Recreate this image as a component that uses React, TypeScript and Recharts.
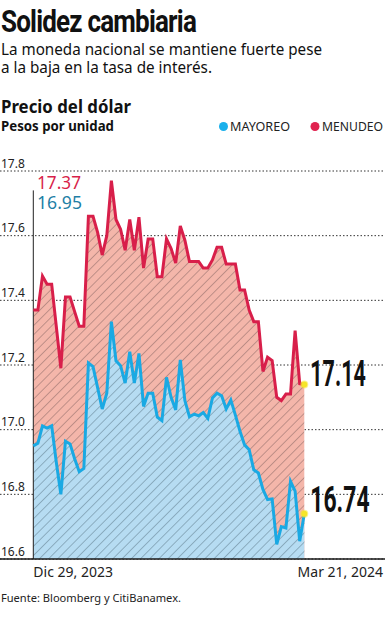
import React from 'react';
import {
  ComposedChart,
  Area,
  Line,
  XAxis,
  YAxis,
  CartesianGrid,
  ReferenceLine,
  ReferenceDot,
} from 'recharts';

// MENUDEO (retail) daily price, Dic 29 2023 -> Mar 21 2024
const menudeo = [
  17.37, 17.37, 17.475, 17.45, 17.45, 17.32, 17.19, 17.41, 17.41, 17.365,
  17.32, 17.32, 17.66, 17.66, 17.61, 17.54, 17.6, 17.77, 17.65, 17.62,
  17.555, 17.65, 17.555, 17.657, 17.5, 17.59, 17.59, 17.473, 17.473, 17.59,
  17.56, 17.515, 17.63, 17.586, 17.52, 17.52, 17.52, 17.5, 17.5, 17.525,
  17.564, 17.564, 17.512, 17.512, 17.512, 17.432, 17.432, 17.37, 17.334, 17.334,
  17.18, 17.224, 17.214, 17.1, 17.09, 17.11, 17.11, 17.306, 17.142, 17.14,
];

// MAYOREO (wholesale) daily price
const mayoreo = [
  16.95, 16.958, 17.012, 17.005, 17.012, 16.9, 16.8, 16.964, 16.956, 16.91,
  16.87, 16.88, 17.206, 17.195, 17.13, 17.064, 17.113, 17.334, 17.213, 17.198,
  17.144, 17.241, 17.144, 17.236, 17.072, 17.113, 17.113, 17.039, 17.028, 17.162,
  17.1, 17.061, 17.216, 17.09, 17.04, 17.048, 17.043, 17.053, 17.035, 17.098,
  17.113, 17.105, 17.064, 17.092, 17.045, 16.995, 16.953, 16.938, 16.876, 16.866,
  16.815, 16.784, 16.786, 16.645, 16.7, 16.696, 16.84, 16.81, 16.655, 16.74,
];

const yTicks = [16.6, 16.8, 17.0, 17.2, 17.4, 17.6, 17.8];
const xTickLabels = ['Dic 29, 2023', 'Mar 21, 2024'];
const seriesNames = ['MAYOREO', 'MENUDEO'];

const lastIdx = menudeo.length - 1;
const xTicks = [0, lastIdx];

const data = menudeo.map((m, i) => ({ i, menudeo: m, mayoreo: mayoreo[i] }));

const RED = '#d81f4a';
const BLUE = '#1aa9e3';
const TEAL = '#1f7fa6';
const TEXT = '#222';
const SANS = '"Noto Sans", "Open Sans", sans-serif';
const COND = 'Roboto, "Noto Sans", sans-serif';

const W = 386;
const H = 620;

const YTick = (props: any) => {
  const { y, payload } = props;
  return (
    <text x={1} y={y - 3.5} fontSize={12} fontFamily={SANS} fill={TEXT} textAnchor="start">
      {Number(payload.value).toFixed(1)}
    </text>
  );
};

const XTick = (props: any) => {
  const { x, y, index } = props;
  const first = index === 0;
  return (
    <text
      x={first ? x : W - 3}
      y={y}
      dy="0.71em"
      fontSize={14}
      fontFamily={SANS}
      fill={TEXT}
      textAnchor={first ? 'start' : 'end'}
    >
      {xTickLabels[index]}
    </text>
  );
};

const endLabel = (value: number, dyBase: number, sx: number) => (props: any) => {
  const { viewBox } = props;
  const cy = viewBox.y + viewBox.height / 2;
  const x = viewBox.x + viewBox.width + 3;
  return (
    <text
      transform={`translate(${x},${cy + dyBase}) scale(${sx},1)`}
      x={0}
      y={0}
      fontSize={37}
      fontWeight={700}
      fontFamily={COND}
      fill="#111"
    >
      {value.toFixed(2)}
    </text>
  );
};

export default function App() {
  return (
    <div style={{ position: 'absolute', left: 0, top: 0, width: W, height: H, background: '#fff' }}>
      <div style={{ position: 'absolute', left: 0, top: 0 }}>
        <ComposedChart
          width={W}
          height={H}
          data={data}
          margin={{ top: 171, right: 1, bottom: 31, left: 0 }}
        >
          <defs>
            <pattern id="hatchRed" width="6.5" height="6.5" patternUnits="userSpaceOnUse" patternTransform="rotate(45)">
              <rect width="6.5" height="6.5" fill="#f4b6aa" />
              <line x1="0" y1="0" x2="0" y2="6.5" stroke="#6e5452" strokeWidth="1" strokeOpacity="0.8" />
            </pattern>
            <pattern id="hatchBlue" width="6.5" height="6.5" patternUnits="userSpaceOnUse" patternTransform="rotate(45)">
              <rect width="6.5" height="6.5" fill="#b6dcf2" />
              <line x1="0" y1="0" x2="0" y2="6.5" stroke="#4a6472" strokeWidth="1" strokeOpacity="0.8" />
            </pattern>
          </defs>
          <CartesianGrid horizontal vertical={false} stroke="#333" strokeDasharray="1.5 2" strokeWidth={1} />
          <XAxis
            dataKey="i"
            type="number"
            domain={[-7.25, 76.57]}
            ticks={xTicks}
            tick={<XTick />}
            tickLine={false}
            axisLine={{ stroke: '#1a1a1a', strokeWidth: 1.5 }}
            height={30}
            allowDataOverflow
          />
          <YAxis
            type="number"
            domain={[16.6, 17.8]}
            ticks={yTicks}
            tick={<YTick />}
            tickLine={false}
            axisLine={false}
            mirror
            width={40}
            interval={0}
            allowDataOverflow
          />
          <Area
            dataKey="menudeo"
            type="linear"
            fill="url(#hatchRed)"
            fillOpacity={1}
            stroke="none"
            baseValue="dataMin"
            isAnimationActive={false}
          />
          <Area
            dataKey="mayoreo"
            type="linear"
            fill="url(#hatchBlue)"
            fillOpacity={1}
            stroke="none"
            baseValue="dataMin"
            isAnimationActive={false}
          />
          <ReferenceLine
            segment={[
              { x: 0, y: 17.74 },
              { x: 0, y: 16.6 },
            ]}
            stroke="#222"
            strokeWidth={1}
          />
          <Line dataKey="mayoreo" type="linear" stroke={BLUE} strokeWidth={3} dot={false} isAnimationActive={false} />
          <Line dataKey="menudeo" type="linear" stroke={RED} strokeWidth={3} dot={false} isAnimationActive={false} />
          <ReferenceDot
            x={lastIdx}
            y={menudeo[lastIdx]}
            r={3}
            fill="#f6e52a"
            stroke="#f6e52a"
            strokeOpacity={0.5}
            strokeWidth={2}
            label={endLabel(menudeo[lastIdx], 2, 0.58)}
          />
          <ReferenceDot
            x={lastIdx}
            y={mayoreo[lastIdx]}
            r={3}
            fill="#f6e52a"
            stroke="#f6e52a"
            strokeOpacity={0.5}
            strokeWidth={2}
            label={endLabel(mayoreo[lastIdx], -2, 0.62)}
          />
        </ComposedChart>
      </div>
      <svg
        width={W}
        height={H}
        style={{ position: 'absolute', left: 0, top: 0, pointerEvents: 'none' }}
      >
        <text x={1} y={32} fontSize={32} fontWeight={700} fontFamily={COND} fill="#111" textLength={195} lengthAdjust="spacingAndGlyphs" letterSpacing={-1}>
          Solidez cambiaria
        </text>
        <text x={1} y={55} fontSize={16} fontFamily={SANS} fill="#111" textLength={321} lengthAdjust="spacingAndGlyphs">
          La moneda nacional se mantiene fuerte pese
        </text>
        <text x={1} y={73} fontSize={16} fontFamily={SANS} fill="#111" textLength={211} lengthAdjust="spacingAndGlyphs">
          a la baja en la tasa de interés.
        </text>
        <text x={1} y={113} fontSize={18} fontWeight={700} fontFamily={SANS} fill="#111" textLength={130} lengthAdjust="spacingAndGlyphs">
          Precio del dólar
        </text>
        <text x={1} y={131} fontSize={13.5} fontWeight={700} fontFamily={SANS} fill="#111" textLength={113} lengthAdjust="spacingAndGlyphs">
          Pesos por unidad
        </text>
        <circle cx={223.5} cy={126.5} r={4.5} fill="#1ab0ec" />
        <text x={230} y={131} fontSize={12.5} fontFamily={SANS} fill={TEXT} textLength={60} lengthAdjust="spacingAndGlyphs">
          {seriesNames[0]}
        </text>
        <circle cx={315} cy={126.5} r={4.5} fill="#e0234f" />
        <text x={322} y={131} fontSize={12.5} fontFamily={SANS} fill={TEXT} textLength={61} lengthAdjust="spacingAndGlyphs">
          {seriesNames[1]}
        </text>
        <text x={37} y={189} fontSize={17.5} fontFamily={SANS} fill={RED} textLength={44} lengthAdjust="spacingAndGlyphs">
          {menudeo[0].toFixed(2)}
        </text>
        <text x={37} y={209} fontSize={17.5} fontFamily={SANS} fill={TEAL} textLength={45} lengthAdjust="spacingAndGlyphs">
          {mayoreo[0].toFixed(2)}
        </text>
        <text x={1} y={602} fontSize={10.5} fontFamily={SANS} fill={TEXT} textLength={180} lengthAdjust="spacingAndGlyphs">
          Fuente: Bloomberg y CitiBanamex.
        </text>
      </svg>
    </div>
  );
}
